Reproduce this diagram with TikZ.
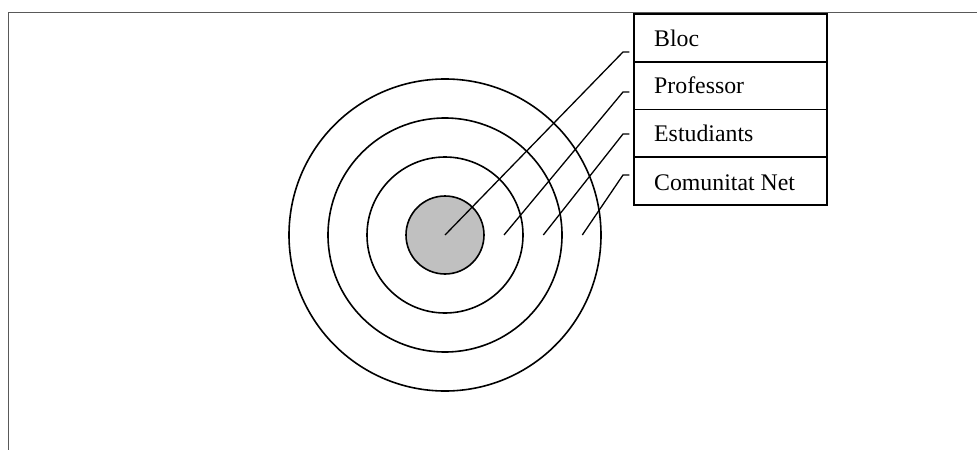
\documentclass[tikz,border=0pt]{standalone}
\usepackage{fontspec}
\setmainfont{Liberation Serif}
\begin{document}
\begin{tikzpicture}[x=1pt,y=-1pt,
  frameline/.style={draw=black!65,line width=1.9pt},
  ring/.style={circle,draw,line width=1.6pt,inner sep=0pt},
  rowbox/.style={rectangle,draw,line width=1.5pt,minimum width=192.7pt,minimum height=47.7pt,inner sep=0pt,anchor=north west},
  lbl/.style={anchor=base west,inner sep=0pt,font=\fontsize{23.8}{28}\selectfont},
  leader/.style={draw,line width=1.3pt}]
\useasboundingbox (0,0) rectangle (977,450);
% frame
\coordinate (fTL) at (8.5,12.5);
\coordinate (fTR) at (977,12.5);
\coordinate (fBL) at (8.5,450);
\draw[frameline] (fTR) -- (fTL) -- (fBL);
% target rings
\node[ring,minimum size=312pt] (c4) at (445,235) {};
\node[ring,minimum size=234pt] (c3) at (445,235) {};
\node[ring,minimum size=156pt] (c2) at (445,235) {};
\node[ring,minimum size=78pt,fill={rgb,255:red,192;green,192;blue,192}] (c1) at (445,235) {};
% legend rows
\node[rowbox] (r1) at (633.3,13.3) {};
\node[rowbox] (r2) at (633.3,61.0) {};
\node[rowbox] (r3) at (633.3,108.7) {};
\node[rowbox] (r4) at (633.3,156.4) {};
\node[lbl] (t1) at (654,46) {Bloc};
\node[lbl] (t2) at (654,93.5) {Professor};
\node[lbl] (t3) at (654,141.5) {Estudiants};
\node[lbl] (t4) at (654,190) {Comunitat Net};
% leader lines
\coordinate (s1) at (c1.center);
\coordinate (s2) at (504,235);
\coordinate (s3) at (543.3,235);
\coordinate (s4) at (582.3,235);
\coordinate (k1) at (623,52);
\coordinate (k2) at (623,92);
\coordinate (k3) at (623,134);
\coordinate (k4) at (623,175);
\draw[leader] (s1) -- (k1) -- ([xshift=-4pt]r1.west |- k1);
\draw[leader] (s2) -- (k2) -- ([xshift=-4pt]r2.west |- k2);
\draw[leader] (s3) -- (k3) -- ([xshift=-4pt]r3.west |- k3);
\draw[leader] (s4) -- (k4) -- ([xshift=-4pt]r4.west |- k4);
\end{tikzpicture}
\end{document}
